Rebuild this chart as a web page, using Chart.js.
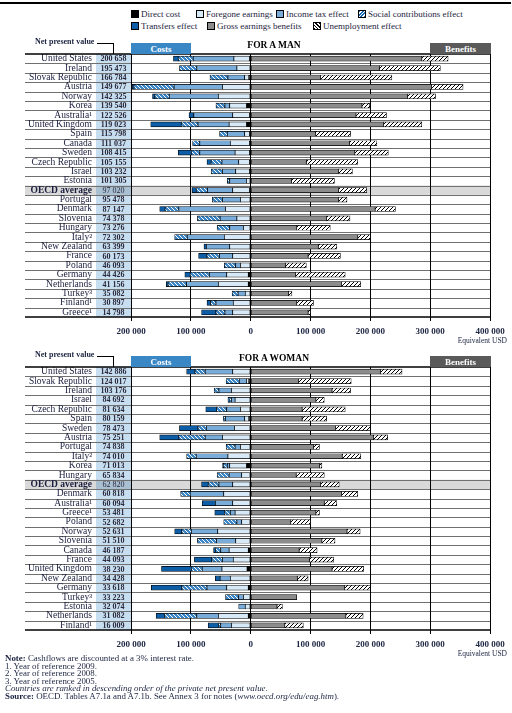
<!DOCTYPE html>
<html>
<head>
<meta charset="utf-8">
<script src="https://cdn.jsdelivr.net/npm/chart.js@4"></script>
<style>
  body { margin: 0; width: 512px; height: 713px; position: relative; background: #fff; overflow: hidden;
         font-family: "Liberation Serif", "DejaVu Serif", serif; color: #1c2440; }
  .rule { position: absolute; left: 0; top: 2px; width: 511px; height: 1.5px; background: #000; }
  .lg { position: absolute; font-size: 9px; line-height: 12px; white-space: nowrap; }
  .sw { display: inline-block; width: 6px; height: 6px; border: 1px solid #000; margin-right: 2px; vertical-align: -0.5px; }
  .npvlab { position: absolute; left: 35px; font-size: 8px; font-weight: bold; white-space: nowrap; }
  .npvline { position: absolute; border-top: 1px solid #000; border-right: 1px solid #000; }
  .box { position: absolute; height: 11px; color: #fff; font-size: 9px; font-weight: bold; text-align: center; line-height: 13px; }
  .title { position: absolute; font-size: 9.5px; font-weight: bold; color: #000; white-space: nowrap; transform: translateX(-50%); }
  .unit { position: absolute; right: 5px; font-size: 7.5px; white-space: nowrap; }
  canvas { position: absolute; left: 0; }
  .notes { position: absolute; left: 5px; top: 655px; font-size: 8.9px; line-height: 7.6px; white-space: nowrap; }
</style>
</head>
<body>
<div class="rule"></div>

<div class="lg" style="left:131px;top:8px"><span class="sw" style="background:#000"></span>Direct cost</div>
<div class="lg" style="left:196px;top:8px"><span class="sw" style="background:#d7e8f6"></span>Foregone earnings</div>
<div class="lg" style="left:276px;top:8px"><span class="sw" style="background:#79acd9"></span>Income tax effect</div>
<div class="lg" style="left:358px;top:8px"><span class="sw" style="background:repeating-linear-gradient(-45deg,#1f6db4 0 1.4px,#fff 1.4px 2.4px)"></span>Social contributions effect</div>
<div class="lg" style="left:131px;top:20px"><span class="sw" style="background:#0d5ea6"></span>Transfers effect</div>
<div class="lg" style="left:207px;top:20px"><span class="sw" style="background:#8c8c8c"></span>Gross earnings benefits</div>
<div class="lg" style="left:313px;top:20px"><span class="sw" style="background:repeating-linear-gradient(45deg,#000 0 1px,#fff 1px 2.4px)"></span>Unemployment effect</div>

<canvas id="man" width="512" height="300" style="top:40px"></canvas>
<canvas id="woman" width="512" height="300" style="top:353px"></canvas>

<div class="npvlab" style="top:37px">Net present value</div>
<div class="npvline" style="left:97px;top:43px;width:16px;height:10px"></div>
<div class="box" style="left:131px;top:43px;width:60px;background:#3a87c6">Costs</div>
<div class="box" style="left:430px;top:43px;width:61px;background:#5a5a5a">Benefits</div>
<div class="title" style="left:274px;top:40px">FOR A MAN</div>
<div class="unit" style="top:336px">Equivalent USD</div>

<div class="npvlab" style="top:350px">Net present value</div>
<div class="npvline" style="left:97px;top:356px;width:16px;height:10px"></div>
<div class="box" style="left:131px;top:356px;width:60px;background:#3a87c6">Costs</div>
<div class="box" style="left:430px;top:356px;width:61px;background:#5a5a5a">Benefits</div>
<div class="title" style="left:274px;top:353px">FOR A WOMAN</div>
<div class="unit" style="top:649px">Equivalent USD</div>

<div class="notes">
  <div><b>Note:</b> Cashflows are discounted at a 3% interest rate.</div>
  <div>1. Year of reference 2009.</div>
  <div>2. Year of reference 2008.</div>
  <div>3. Year of reference 2005.</div>
  <div><i>Countries are ranked in descending order of the private net present value.</i></div>
  <div><b>Source:</b> OECD. Tables A7.1a and A7.1b. See Annex 3 for notes (<i>www.oecd.org/edu/eag.htm</i>).</div>
</div>

<script>
// values, equivalent USD (costs as positive amounts)
const manCountries = ['United States', 'Ireland', 'Slovak Republic', 'Austria', 'Norway', 'Korea', 'Australia¹', 'United Kingdom', 'Spain', 'Canada', 'Sweden', 'Czech Republic', 'Israel', 'Estonia', 'OECD average', 'Portugal', 'Denmark', 'Slovenia', 'Hungary', 'Italy²', 'New Zealand', 'France', 'Poland', 'Germany', 'Netherlands', 'Turkey³', 'Finland¹', 'Greece¹'];
const manNpv = [200658, 195473, 166784, 149677, 142325, 139540, 122526, 119023, 115798, 111037, 108415, 105155, 103232, 101305, 97020, 95478, 87147, 74378, 73276, 72302, 63399, 60173, 46093, 44426, 41156, 35082, 30897, 14798];
const manDirect = [2000, 1000, 3000, 1000, 1000, 7000, 2000, 7000, 2000, 2000, 2000, 2000, 2000, 1000, 2000, 1000, 1000, 1000, 1000, 1000, 1000, 1000, 1000, 4000, 4000, 1000, 1000, 1000];
const manForegone = [26000, 22000, 7000, 46000, 53000, 28000, 28000, 29000, 8000, 32000, 24000, 18000, 23000, 6000, 28000, 16000, 41000, 22000, 11000, 43000, 34000, 29000, 16000, 36000, 50000, 8000, 28000, 29000];
const manIncomeTax = [68000, 67000, 28000, 81000, 82000, 8000, 65000, 52000, 29000, 51000, 59000, 28000, 22000, 28000, 42000, 30000, 78000, 28000, 23000, 62000, 39000, 22000, 8000, 29000, 53000, 12000, 29000, 13000];
const manSocial = [25000, 29000, 30000, 67000, 24000, 15000, 0, 28000, 13000, 12000, 14000, 18000, 19000, 4000, 19000, 17000, 23000, 38000, 21000, 21000, 0, 21000, 19000, 32000, 31000, 10000, 9000, 15000];
const manTransfers = [8000, 0, 0, 3000, 4000, 0, 8000, 51000, 0, 0, 22000, 7000, 0, 0, 7000, 0, 9000, 0, 0, 0, 4000, 14000, 0, 9000, 3000, 0, 6000, 24000];
const manGross = [286000, 215000, 117000, 302000, 262000, 186000, 176000, 222000, 108000, 165000, 174000, 93000, 147000, 68000, 147000, 147000, 208000, 127000, 77000, 179000, 113000, 96000, 58000, 75000, 152000, 63000, 77000, 96000];
const manUnemployment = [44000, 102000, 119000, 53000, 47000, 13000, 51000, 64000, 59000, 46000, 56000, 86000, 23000, 72000, 47000, 14000, 34000, 39000, 56000, 21000, 31000, 54000, 35000, 83000, 32000, 6000, 28000, 4000];

const womanCountries = ['United States', 'Slovak Republic', 'Ireland', 'Israel', 'Czech Republic', 'Spain', 'Sweden', 'Austria', 'Portugal', 'Italy²', 'Korea', 'Hungary', 'OECD average', 'Denmark', 'Australia¹', 'Greece¹', 'Poland', 'Norway', 'Slovenia', 'Canada', 'France', 'United Kingdom', 'New Zealand', 'Germany', 'Turkey³', 'Estonia', 'Netherlands', 'Finland¹'];
const womanNpv = [142886, 124017, 103176, 84692, 81634, 80159, 78473, 75251, 74838, 74010, 71013, 65834, 62820, 60818, 60094, 53481, 52682, 52631, 51510, 46187, 44093, 38230, 34428, 33618, 33223, 32074, 31082, 16009];
const womanDirect = [1000, 3000, 1000, 1000, 1000, 3000, 1000, 1000, 1000, 1000, 7000, 1000, 1000, 1000, 1000, 1000, 1000, 1000, 1000, 4000, 1000, 6000, 1000, 4000, 1000, 1000, 4000, 1000];
const womanForegone = [29000, 4000, 31000, 25000, 16000, 7000, 26000, 46000, 16000, 37000, 28000, 14000, 29000, 44000, 29000, 25000, 14000, 54000, 24000, 32000, 28000, 42000, 33000, 36000, 11000, 8000, 50000, 31000];
const womanIncomeTax = [46000, 12000, 21000, 6000, 23000, 32000, 47000, 29000, 9000, 53000, 4000, 21000, 23000, 56000, 29000, 8000, 8000, 44000, 32000, 14000, 18000, 33000, 17000, 33000, 8000, 11000, 36000, 18000];
const womanSocial = [17000, 22000, 8000, 4000, 17000, 4000, 14000, 44000, 15000, 16000, 6000, 20000, 18000, 16000, 0, 10000, 22000, 16000, 32000, 9000, 18000, 18000, 0, 42000, 22000, 0, 54000, 4000];
const womanTransfers = [14000, 0, 0, 2000, 18000, 0, 31000, 32000, 0, 0, 2000, 0, 11000, 0, 22000, 16000, 0, 12000, 0, 3000, 29000, 50000, 8000, 51000, 0, 0, 14000, 17000];
const womanGross = [217000, 80000, 136000, 109000, 86000, 86000, 142000, 205000, 105000, 153000, 115000, 76000, 117000, 152000, 123000, 109000, 67000, 161000, 119000, 81000, 98000, 136000, 78000, 157000, 77000, 44000, 159000, 57000];
const womanUnemployment = [36000, 88000, 31000, 14000, 72000, 41000, 58000, 24000, 10000, 31000, 4000, 47000, 31000, 27000, 21000, 6000, 33000, 22000, 22000, 30000, 41000, 53000, 18000, 43000, 0, 9000, 29000, 31000];

const xTicks = { min: -200000, max: 400000, step: 100000 };

const fmt = v => String(v).replace(/\B(?=(\d{3})+(?!\d))/g, ' ');

function hatch(bg, fg, up) {
  const c = document.createElement('canvas');
  c.width = c.height = 4;
  const g = c.getContext('2d');
  g.fillStyle = bg; g.fillRect(0, 0, 4, 4);
  g.strokeStyle = fg; g.lineWidth = 1;
  g.beginPath();
  for (const o of [-4, 0, 4]) {
    if (up) { g.moveTo(o, 4); g.lineTo(o + 4, 0); }
    else { g.moveTo(o, 0); g.lineTo(o + 4, 4); }
  }
  g.stroke();
  return g.createPattern(c, 'repeat');
}

// draws the label column, NPV column, row rules and highlighted row
const tablePlugin = {
  id: 'table',
  beforeDraw(chart, args, opts) {
    const { ctx, chartArea: a, scales: { y } } = chart;
    const labels = chart.data.labels;
    const band = (a.bottom - a.top) / labels.length;
    ctx.save();
    ctx.fillStyle = '#c7ddf0';
    ctx.fillRect(96, a.top, a.left - 96, a.bottom - a.top);
    const hi = labels.indexOf('OECD average');
    if (hi >= 0) {
      const yc = y.getPixelForValue(hi);
      ctx.fillStyle = '#d9d9d9';
      ctx.fillRect(25, yc - band / 2, a.right - 25, band);
      ctx.fillStyle = '#a9bfd2';
      ctx.fillRect(96, yc - band / 2, a.left - 96, band);
    }
    ctx.strokeStyle = '#707070';
    ctx.lineWidth = 1;
    for (let i = 0; i < labels.length - 1; i++) {
      const yy = Math.round(y.getPixelForValue(i) + band / 2) + 0.5;
      ctx.beginPath(); ctx.moveTo(25, yy); ctx.lineTo(a.right, yy); ctx.stroke();
    }
    ctx.textBaseline = 'middle';
    labels.forEach((lab, i) => {
      const yc = y.getPixelForValue(i);
      ctx.fillStyle = '#1a1d3c';
      ctx.textAlign = 'right';
      ctx.font = (i === hi ? 'bold ' : '') + '9.5px "Liberation Serif"';
      ctx.fillText(lab, 92, yc);
      ctx.textAlign = 'center';
      ctx.font = (i === hi ? '' : 'bold ') + '8px "Liberation Serif"';
      ctx.fillStyle = '#2a2a3a';
      ctx.fillText(fmt(opts.npv[i]), 113.5, yc + 0.5);
    });
    ctx.restore();
  },
  afterDraw(chart) {
    const { ctx, chartArea: a } = chart;
    ctx.save();
    ctx.strokeStyle = '#000';
    ctx.lineWidth = 1.5;
    for (const yy of [a.top, a.bottom]) {
      ctx.beginPath(); ctx.moveTo(25, yy); ctx.lineTo(a.right + 0.5, yy); ctx.stroke();
    }
    ctx.restore();
  }
};

function makeChart(id, labels, npv, direct, foregone, tax, social, transfers, gross, unemp) {
  const neg = arr => arr.map(v => v ? -v : null);
  const pos = arr => arr.map(v => v ? v : null);
  const base = { barThickness: 5, borderWidth: 0.7, borderColor: '#000', borderSkipped: false, stack: 's' };
  new Chart(document.getElementById(id), {
    type: 'bar',
    data: {
      labels,
      datasets: [
        { ...base, label: 'Direct cost', data: neg(direct), backgroundColor: '#000' },
        { ...base, label: 'Foregone earnings', data: neg(foregone), backgroundColor: '#d7e8f6' },
        { ...base, label: 'Income tax effect', data: neg(tax), backgroundColor: '#79acd9' },
        { ...base, label: 'Social contributions effect', data: neg(social), backgroundColor: hatch('#3b86c6', '#ffffff', false) },
        { ...base, label: 'Transfers effect', data: neg(transfers), backgroundColor: '#0d5ea6' },
        { ...base, label: 'Gross earnings benefits', data: pos(gross), backgroundColor: '#8c8c8c' },
        { ...base, label: 'Unemployment effect', data: pos(unemp), backgroundColor: hatch('#ffffff', '#000000', true) }
      ]
    },
    options: {
      indexAxis: 'y',
      responsive: false,
      animation: false,
      layout: { padding: { left: 131, right: 22, top: 14, bottom: 0 } },
      plugins: { legend: { display: false }, tooltip: { enabled: false }, table: { npv } },
      scales: {
        x: {
          stacked: true, min: xTicks.min, max: xTicks.max,
          grid: { color: '#000', lineWidth: 1, tickLength: 4 },
          border: { display: false },
          ticks: {
            stepSize: xTicks.step, autoSkip: false, maxRotation: 0, padding: 5, color: '#1c2440',
            font: { family: 'Liberation Serif', size: 9, weight: 'bold' },
            callback: v => fmt(Math.abs(v))
          },
          afterFit: s => { s.height = 23; }
        },
        y: { stacked: true, display: false }
      }
    },
    plugins: [tablePlugin]
  });
}

makeChart('man', manCountries, manNpv, manDirect, manForegone, manIncomeTax, manSocial, manTransfers, manGross, manUnemployment);
makeChart('woman', womanCountries, womanNpv, womanDirect, womanForegone, womanIncomeTax, womanSocial, womanTransfers, womanGross, womanUnemployment);
</script>
</body>
</html>
